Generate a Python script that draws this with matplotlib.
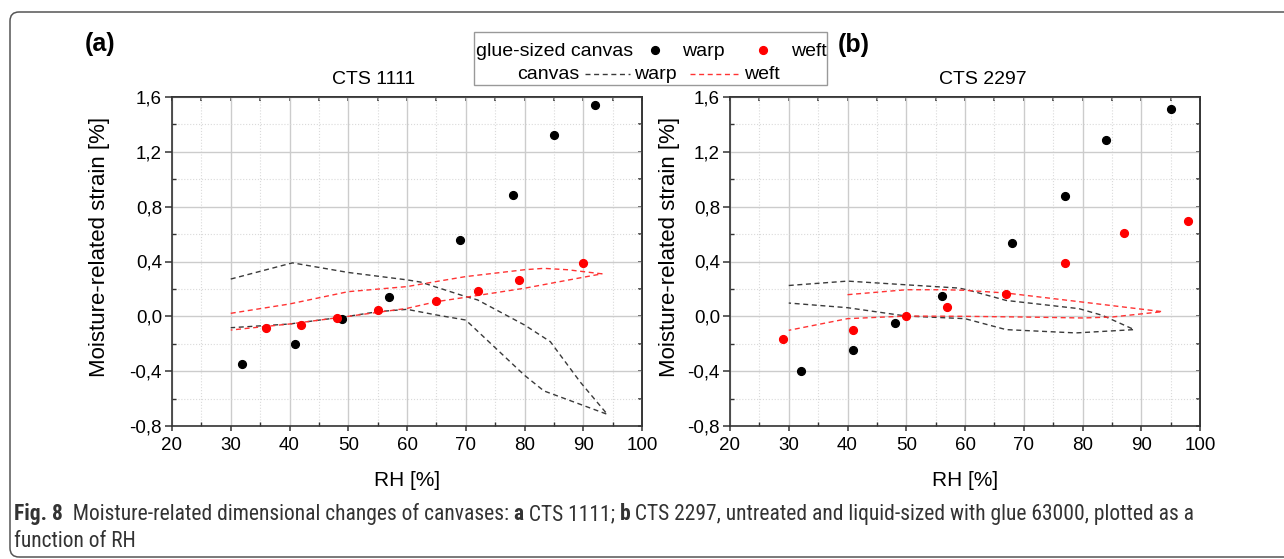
import matplotlib
matplotlib.use("Agg")
import os
import matplotlib.pyplot as plt
from matplotlib import font_manager as fm
from matplotlib.patches import FancyBboxPatch, Rectangle
from matplotlib.lines import Line2D
from matplotlib.ticker import MultipleLocator, FixedLocator

# ---------------- data ----------------
x_ticks = [20, 30, 40, 50, 60, 70, 80, 90, 100]
y_ticks = [-0.8, -0.4, 0.0, 0.4, 0.8, 1.2, 1.6]
y_tick_labels = ["-0,8", "-0,4", "0,0", "0,4", "0,8", "1,2", "1,6"]

# (a) CTS 1111 – glue-sized canvas
a_warp_rh = [32, 41, 49, 57, 69, 78, 85, 92]
a_warp_strain = [-0.345, -0.204, -0.022, 0.143, 0.557, 0.888, 1.32, 1.544]
a_weft_rh = [36, 42, 48, 55, 65, 72, 79, 90]
a_weft_strain = [-0.083, -0.063, -0.012, 0.044, 0.114, 0.182, 0.267, 0.389]
# (a) untreated canvas (hysteresis loops)
a_cwarp_rh = [30, 40.5, 50, 60, 62.3, 70, 72, 80, 84.4, 89.5, 94.1,
              90, 83.3, 80, 70, 65, 60, 55, 50, 40, 30]
a_cwarp_strain = [0.272, 0.39, 0.32, 0.266, 0.25, 0.144, 0.12, -0.063, -0.185, -0.48, -0.715,
                  -0.65, -0.544, -0.43, -0.027, 0.01, 0.051, 0.034, 0.0, -0.056, -0.083]
a_cweft_rh = [30, 40, 50, 60, 65, 70, 80, 83.3, 87.3, 93.2,
              90, 80, 70, 65, 60, 50, 40, 30]
a_cweft_strain = [0.022, 0.09, 0.18, 0.217, 0.254, 0.29, 0.34, 0.35, 0.34, 0.31,
                  0.285, 0.205, 0.139, 0.107, 0.058, 0.0, -0.056, -0.1]

# (b) CTS 2297 – glue-sized canvas
b_warp_rh = [32, 41, 48, 56, 68, 77, 84, 95]
b_warp_strain = [-0.399, -0.243, -0.051, 0.151, 0.535, 0.875, 1.284, 1.51]
b_weft_rh = [29, 41, 50, 57, 67, 77, 87, 98]
b_weft_strain = [-0.168, -0.102, 0.002, 0.07, 0.165, 0.387, 0.608, 0.693]
# (b) untreated canvas
b_cwarp_rh = [30, 40, 50, 59, 60.7, 67, 79.4, 83.4, 88.8,
              78.9, 67, 60, 50, 40, 30]
b_cwarp_strain = [0.225, 0.257, 0.23, 0.206, 0.19, 0.116, 0.056, 0.007, -0.097,
                  -0.121, -0.097, -0.017, 0.002, 0.063, 0.097]
b_cweft_rh = [40, 50, 56.2, 60, 67, 80, 93.6,
              85, 80, 70, 60, 50, 40, 30]
b_cweft_strain = [0.158, 0.194, 0.194, 0.19, 0.17, 0.104, 0.034,
                  -0.005, -0.012, -0.005, 0.0, 0.002, -0.017, -0.102]

titles = ["CTS 1111", "CTS 2297"]
panel_letters = ["(a)", "(b)"]
x_label = "RH [%]"
y_label = "Moisture-related strain [%]"
caption_pieces = [("Fig. 8", "bold"),
                  ("  Moisture-related dimensional changes of canvases: ", "normal"),
                  ("a", "bold"), (" CTS 1111; ", "normal"),
                  ("b", "bold"),
                  (" CTS 2297, untreated and liquid-sized with glue 63000, plotted as a", "normal")]
caption_line2 = "function of RH"

# ---------------- figure ----------------
W, H = 1284, 559
plt.rcParams["font.family"] = ["Liberation Sans", "DejaVu Sans"]
fig = plt.figure(figsize=(W / 100, H / 100), dpi=100)


def fx(px):
    return px / W


def fy(py):
    return 1 - py / H


# look for a condensed sans face for the caption
def find_condensed():
    prefs = ["NotoSans-Condensed", "OpenSans-Condensed", "OpenSans_Condensed", "RobotoCondensed",
             "Roboto-Condensed", "LiberationSansNarrow", "DejaVuSansCondensed", "Condensed", "Narrow"]
    files = [f.fname for f in fm.fontManager.ttflist]
    for key in prefs:
        reg = [p for p in files if key.lower() in os.path.basename(p).lower()
               and "italic" not in p.lower() and "oblique" not in p.lower()
               and "bold" not in os.path.basename(p).lower()
               and "light" not in p.lower() and "thin" not in p.lower()
               and "medium" not in p.lower() and "semi" not in os.path.basename(p).lower()
               and "black" not in p.lower() and "extra" not in p.lower()]
        bold = [p for p in files if key.lower() in os.path.basename(p).lower()
                and "bold" in os.path.basename(p).lower() and "italic" not in p.lower()
                and "semi" not in os.path.basename(p).lower() and "extra" not in p.lower()
                and "oblique" not in p.lower()]
        if reg:
            reg.sort(key=len)
            b = sorted(bold, key=len)[0] if bold else reg[0]
            return fm.FontProperties(fname=reg[0]), fm.FontProperties(fname=b), bool(bold)
    return None


cond = find_condensed()

# rounded border
border = FancyBboxPatch((10 / 100, (H - 557) / 100), (1310 - 10) / 100, (557 - 12) / 100,
                        boxstyle="round,pad=0,rounding_size=0.09",
                        transform=fig.dpi_scale_trans, fill=False,
                        edgecolor="#555555", linewidth=1.1, clip_on=False)
fig.add_artist(border)

BLACK_DASH = "#3a3a3a"
RED_DASH = "#ff3333"


def make_axes(left_px):
    ax = fig.add_axes([fx(left_px), fy(426), fx(470), 329 / H])
    ax.set_xlim(20, 100)
    ax.set_ylim(-0.8, 1.6)
    ax.xaxis.set_major_locator(FixedLocator(x_ticks))
    ax.set_xticklabels([str(v) for v in x_ticks])
    ax.xaxis.set_minor_locator(MultipleLocator(5))
    ax.yaxis.set_major_locator(FixedLocator(y_ticks))
    ax.set_yticklabels(y_tick_labels)
    ax.yaxis.set_minor_locator(MultipleLocator(0.2))
    ax.grid(which="major", color="#cccccc", linewidth=1.0)
    ax.grid(which="minor", color="#dadada", linewidth=0.8, linestyle=":")
    ax.set_axisbelow(True)
    ax.tick_params(axis="x", which="major", direction="out", length=3.6, width=1.1,
                   labelsize=13.5, pad=4, color="#333333")
    ax.tick_params(axis="y", which="major", direction="out", length=5, width=1.1,
                   labelsize=13.5, pad=2.2, color="#333333")
    ax.tick_params(which="minor", direction="in", length=2.8, width=1.0, color="#333333")
    for s in ax.spines.values():
        s.set_linewidth(1.2)
        s.set_color("#333333")
    top = ax.secondary_xaxis("top")
    top.xaxis.set_major_locator(FixedLocator(x_ticks))
    top.xaxis.set_minor_locator(MultipleLocator(5))
    top.tick_params(which="both", direction="in", labeltop=False, color="#333333", width=1.1)
    top.tick_params(which="major", length=3.2)
    top.tick_params(which="minor", length=2.8)
    top.spines["top"].set_linewidth(1.2)
    top.spines["top"].set_color("#333333")
    right = ax.secondary_yaxis("right")
    right.yaxis.set_major_locator(FixedLocator(y_ticks))
    right.yaxis.set_minor_locator(MultipleLocator(0.2))
    right.tick_params(which="both", direction="in", labelright=False, color="#333333", width=1.1)
    right.tick_params(which="major", length=3.2)
    right.tick_params(which="minor", length=2.8)
    right.spines["right"].set_linewidth(1.2)
    right.spines["right"].set_color("#333333")
    return ax


dash = (0, (3.6, 2.6))
ms = 5.6

panels = [
    (172, a_warp_rh, a_warp_strain, a_weft_rh, a_weft_strain,
     a_cwarp_rh, a_cwarp_strain, a_cweft_rh, a_cweft_strain),
    (730, b_warp_rh, b_warp_strain, b_weft_rh, b_weft_strain,
     b_cwarp_rh, b_cwarp_strain, b_cweft_rh, b_cweft_strain),
]
for (left, wx, wy, fxv, fyv, cwx, cwy, cfx, cfy) in panels:
    ax = make_axes(left)
    ax.plot(cwx, cwy, color=BLACK_DASH, linestyle=dash, linewidth=1.0, zorder=3)
    ax.plot(cfx, cfy, color=RED_DASH, linestyle=dash, linewidth=1.0, zorder=3)
    ax.plot(wx, wy, linestyle="none", marker="o", markersize=ms, color="black", zorder=4)
    ax.plot(fxv, fyv, linestyle="none", marker="o", markersize=ms, color="#ff0000", zorder=4)

# titles, letters, axis labels
fig.text(fx(374), fy(80), titles[0], ha="center", va="center", fontsize=14)
fig.text(fx(983), fy(80), titles[1], ha="center", va="center", fontsize=14)
fig.text(fx(100), fy(44), panel_letters[0], ha="center", va="center", fontsize=18, fontweight="bold")
fig.text(fx(854), fy(45), panel_letters[1], ha="center", va="center", fontsize=18, fontweight="bold")
for cx in (100, 669):
    fig.text(fx(cx), fy(247), y_label, rotation=90, ha="center", va="center", fontsize=16)
for cx in (407, 965):
    fig.text(fx(cx), fy(480), x_label, ha="center", va="center", fontsize=15)

# legend (manual, two rows)
fig.add_artist(Rectangle((fx(474), fy(85)), fx(827 - 474), (85 - 32) / H, fill=False,
                         edgecolor="#999999", linewidth=1.0, transform=fig.transFigure))
LS = 14
fig.text(fx(476), fy(56), "glue-sized canvas", ha="left", va="baseline", fontsize=LS)
fig.add_artist(Line2D([fx(655)], [fy(50)], marker="o", markersize=ms, color="black",
                      linestyle="none", transform=fig.transFigure))
fig.text(fx(682), fy(56), "warp", ha="left", va="baseline", fontsize=LS)
fig.add_artist(Line2D([fx(763)], [fy(50)], marker="o", markersize=ms, color="#ff0000",
                      linestyle="none", transform=fig.transFigure))
fig.text(fx(791), fy(56), "weft", ha="left", va="baseline", fontsize=LS)
fig.text(fx(579), fy(79), "canvas", ha="right", va="baseline", fontsize=LS)
fig.add_artist(Line2D([fx(585), fx(630)], [fy(74), fy(74)], color=BLACK_DASH, linestyle=dash,
                      linewidth=1.0, transform=fig.transFigure))
fig.text(fx(634), fy(79), "warp", ha="left", va="baseline", fontsize=LS)
fig.add_artist(Line2D([fx(690), fx(738)], [fy(74), fy(74)], color=RED_DASH, linestyle=dash,
                      linewidth=1.0, transform=fig.transFigure))
fig.text(fx(744), fy(79), "weft", ha="left", va="baseline", fontsize=LS)

# caption with mixed weights, fitted to width
CAP_COLOR = "#333333"
fig.canvas.draw()
renderer = fig.canvas.get_renderer()


def cap_kwargs(weight, size):
    if cond is not None:
        fp = (cond[1] if weight == "bold" else cond[0]).copy()
        fp.set_size(size)
        if weight == "bold" and not cond[2]:
            fp.set_weight("bold")
        return {"fontproperties": fp}
    return {"fontsize": size, "fontweight": weight,
            "family": ["Open Sans", "Liberation Sans", "DejaVu Sans"]}


def piece_width(s, weight, size):
    t1 = fig.text(0, 0, "|" + s + "|", **cap_kwargs(weight, size))
    t2 = fig.text(0, 0, "||", **cap_kwargs(weight, size))
    w = t1.get_window_extent(renderer).width - t2.get_window_extent(renderer).width
    t1.remove()
    t2.remove()
    return w


base = 12.0
total = sum(piece_width(s, wgt, base) for s, wgt in caption_pieces)
size = min(base * (1189.0 / total), 15.5)
x = 14.0
for s, wgt in caption_pieces:
    fig.text(fx(x), fy(520), s, ha="left", va="baseline", color=CAP_COLOR, **cap_kwargs(wgt, size))
    x += piece_width(s, wgt, size)
fig.text(fx(14), fy(547), caption_line2, ha="left", va="baseline", color=CAP_COLOR,
         **cap_kwargs("normal", size))

fig.savefig("out.png", dpi=100)
